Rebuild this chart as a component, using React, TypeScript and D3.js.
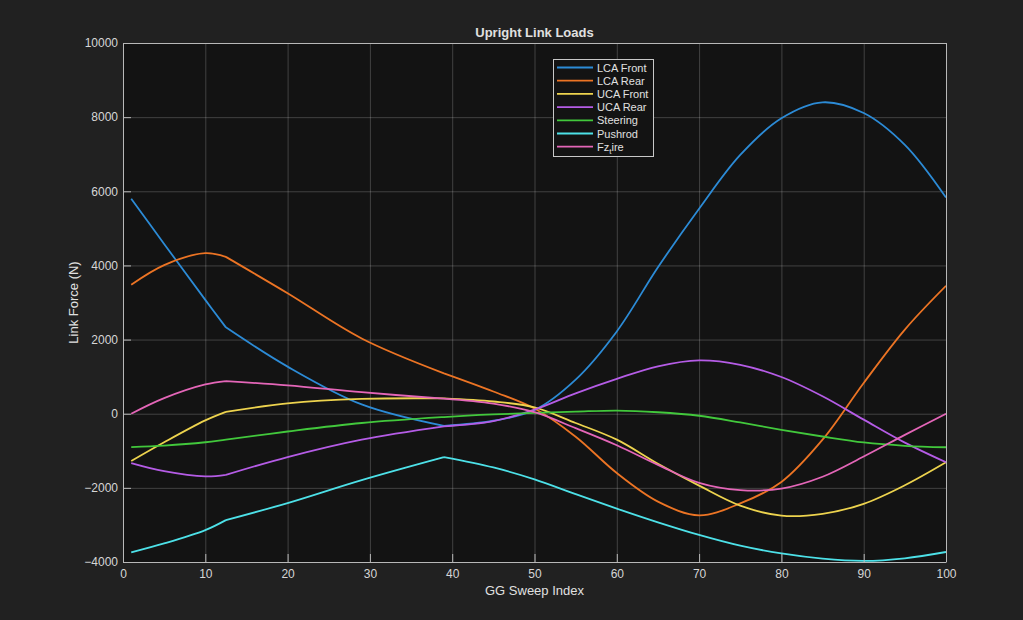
import { useEffect, useRef } from 'react';
import * as d3 from 'd3';

// sweep index where values were read
const sweepIndex = [1, 5, 10, 12.5, 20, 29, 39, 45, 50, 55, 60, 65, 70, 75, 80, 85, 90, 95, 100];

const lcaFront = [5800, 4580, 3070, 2330, 1270, 250, -330, -190, 100, 920, 2220, 3950, 5530, 6980, 7970, 8400, 8110, 7250, 5830];
const lcaRear = [3480, 4010, 4330, 4230, 3250, 2030, 1090, 600, 140, -620, -1600, -2370, -2740, -2420, -1840, -700, 830, 2270, 3450];
const ucaFront = [-1276, -770, -180, 50, 280, 400, 415, 330, 170, -250, -700, -1350, -1940, -2480, -2750, -2700, -2430, -1930, -1310];
const ucaRear = [-1330, -1550, -1690, -1650, -1170, -700, -340, -200, 110, 550, 940, 1280, 1440, 1320, 990, 470, -160, -780, -1310];
const steering = [-900, -860, -770, -700, -480, -250, -90, -20, 20, 55, 85, 40, -55, -235, -435, -615, -775, -865, -905];
const pushrod = [-3740, -3500, -3140, -2870, -2410, -1790, -1170, -1450, -1770, -2170, -2560, -2930, -3270, -3560, -3770, -3910, -3970, -3900, -3730];
const fzTire = [0, 420, 790, 880, 765, 580, 405, 270, 40, -390, -850, -1380, -1865, -2060, -2020, -1700, -1155, -570, 0];

const seriesNames = ['LCA Front', 'LCA Rear', 'UCA Front', 'UCA Rear', 'Steering', 'Pushrod', 'Fz_tire'];
const seriesValues = [lcaFront, lcaRear, ucaFront, ucaRear, steering, pushrod, fzTire];
const seriesColors = ['#2C8BD6', '#EC7424', '#EDD34E', '#B55CE6', '#42C83C', '#4DE1E8', '#E466B8'];
// positions in sweepIndex where a series has a visible corner
const seriesBreaks = [[3, 6], [3, 6], [3, 6], [3, 6], [], [3, 6], [3, 6]];

const xTicks = [0, 10, 20, 30, 40, 50, 60, 70, 80, 90, 100];
const yTicks = [-4000, -2000, 0, 2000, 4000, 6000, 8000, 10000];

const WIDTH = 1023;
const HEIGHT = 620;
const FONT = '"Liberation Sans", Arial, Helvetica, sans-serif';

export default function App() {
    const svgRef = useRef<SVGSVGElement>(null);

    useEffect(() => {
        if (!svgRef.current) return;
        d3.select(svgRef.current).selectAll('*').remove();

        const left = 123;
        const right = 946;
        const top = 43;
        const bottom = 562;

        const svg = d3.select(svgRef.current).attr('width', WIDTH).attr('height', HEIGHT);

        svg.append('rect').attr('width', WIDTH).attr('height', HEIGHT).attr('fill', '#212121');
        svg.append('rect')
            .attr('x', left).attr('y', top)
            .attr('width', right - left).attr('height', bottom - top)
            .attr('fill', '#131313');

        const x = d3.scaleLinear().domain([0, 100]).range([left, right]);
        const y = d3.scaleLinear().domain([-4000, 10000]).range([bottom, top]);

        // grid
        const grid = svg.append('g').attr('stroke', '#ffffff').attr('stroke-opacity', 0.2).attr('stroke-width', 1);
        grid.selectAll('.gx').data(xTicks).enter().append('line')
            .attr('x1', (d) => x(d) + 0.5).attr('x2', (d) => x(d) + 0.5)
            .attr('y1', top).attr('y2', bottom);
        grid.selectAll('.gy').data(yTicks).enter().append('line')
            .attr('x1', left).attr('x2', right)
            .attr('y1', (d) => y(d) + 0.5).attr('y2', (d) => y(d) + 0.5);

        // lines, split at corners so the smooth curve keeps them
        const line = d3.line<[number, number]>()
            .x((d) => x(d[0]))
            .y((d) => y(d[1]))
            .curve(d3.curveCatmullRom.alpha(0.5));

        const plot = svg.append('g');
        plot.append('clipPath').attr('id', 'plotClip').append('rect')
            .attr('x', left).attr('y', top).attr('width', right - left).attr('height', bottom - top);
        seriesValues.forEach((vals, i) => {
            const pts: [number, number][] = vals.map((v, j) => [sweepIndex[j], v]);
            const cuts = [0, ...seriesBreaks[i], pts.length - 1];
            let d = '';
            for (let k = 0; k < cuts.length - 1; k++) {
                d += line(pts.slice(cuts[k], cuts[k + 1] + 1));
            }
            plot.append('path')
                .attr('d', d)
                .attr('fill', 'none')
                .attr('stroke', seriesColors[i])
                .attr('stroke-width', 1.8)
                .attr('stroke-linejoin', 'round')
                .attr('clip-path', 'url(#plotClip)');
        });

        // axes (ticks inside)
        const axisColor = '#b8b8b8';
        const xAxis = svg.append('g')
            .attr('transform', `translate(0, ${bottom})`)
            .call(d3.axisBottom(x).tickValues(xTicks).tickSizeInner(-8).tickSizeOuter(0).tickPadding(7).tickFormat(d3.format('d')));
        const yAxis = svg.append('g')
            .attr('transform', `translate(${left}, 0)`)
            .call(d3.axisLeft(y).tickValues(yTicks).tickSizeInner(-8).tickSizeOuter(0).tickPadding(5).tickFormat(d3.format('d')));
        [xAxis, yAxis].forEach((ax) => {
            ax.select('.domain').attr('stroke', axisColor);
            ax.selectAll('line').attr('stroke', axisColor);
            ax.selectAll('text')
                .attr('fill', '#d6d6d6')
                .style('font-family', FONT)
                .style('font-size', '12px');
        });
        // box top/right
        svg.append('line').attr('x1', right + 0.5).attr('x2', right + 0.5).attr('y1', top).attr('y2', bottom)
            .attr('stroke', axisColor);
        svg.append('line').attr('x1', left).attr('x2', right).attr('y1', top + 0.5).attr('y2', top + 0.5)
            .attr('stroke', axisColor);

        // titles
        svg.append('text')
            .attr('x', (left + right) / 2).attr('y', 37)
            .attr('text-anchor', 'middle')
            .attr('fill', '#e0e0e0')
            .style('font-family', FONT).style('font-size', '13px').style('font-weight', 'bold')
            .text('Upright Link Loads');
        svg.append('text')
            .attr('x', (left + right) / 2).attr('y', 595)
            .attr('text-anchor', 'middle')
            .attr('fill', '#e0e0e0')
            .style('font-family', FONT).style('font-size', '13px')
            .text('GG Sweep Index');
        svg.append('text')
            .attr('transform', `translate(78, ${(top + bottom) / 2}) rotate(-90)`)
            .attr('text-anchor', 'middle')
            .attr('fill', '#e0e0e0')
            .style('font-family', FONT).style('font-size', '13px')
            .text('Link Force (N)');

        // legend
        const lg = svg.append('g').attr('transform', 'translate(553, 59)');
        lg.append('rect')
            .attr('x', 0.5).attr('y', 0.5).attr('width', 100).attr('height', 97)
            .attr('fill', '#131313').attr('stroke', '#c8c8c8').attr('stroke-width', 1);
        seriesNames.forEach((name, i) => {
            const yy = 8.5 + i * 13.2;
            lg.append('line')
                .attr('x1', 4).attr('x2', 40).attr('y1', yy).attr('y2', yy)
                .attr('stroke', seriesColors[i]).attr('stroke-width', 1.8);
            const t = lg.append('text')
                .attr('x', 44).attr('y', yy + 4)
                .attr('fill', '#e0e0e0')
                .style('font-family', FONT).style('font-size', '11px');
            if (name === 'Fz_tire') {
                t.append('tspan').text('Fz');
                t.append('tspan').attr('dy', 3).style('font-size', '8px').text('t');
                t.append('tspan').attr('dy', -3).text('ire');
            } else {
                t.text(name);
            }
        });
    }, []);

    return (
        <div style={{ position: 'absolute', left: 0, top: 0 }}>
            <svg ref={svgRef}></svg>
        </div>
    );
}
